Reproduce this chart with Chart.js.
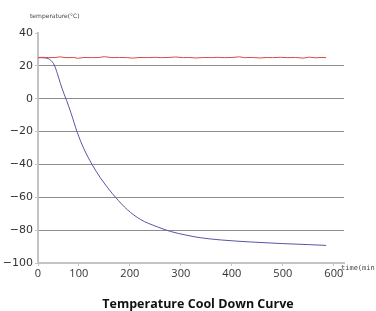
<!DOCTYPE html>
<html>
<head>
<meta charset="utf-8">
<script src="https://cdn.jsdelivr.net/npm/chart.js@4"></script>
<style>
  html, body { margin: 0; padding: 0; background: #fff; }
  #wrap { width: 376px; height: 311px; position: relative; }
</style>
</head>
<body>
<div id="wrap"><canvas id="chart"></canvas></div>
<script>
// Chart data
const chartTitle = 'Temperature Cool Down Curve';
const yAxisLabel = 'temperature(°C)';
const xAxisLabel = 'time(min)';

// Ambient / reference temperature (red)
const refTime = [20, 30, 40, 55, 62, 75, 90, 98, 110, 125, 140, 150, 165, 180, 195, 205, 220, 235, 250, 262,
    275, 290, 305, 315, 330, 345, 360, 372, 385, 400, 415, 425, 440, 455, 470, 480, 495, 510, 525, 540,
    552, 565, 575, 585];
const refTemp = [25.1, 25.2, 25.0, 25.1, 25.5, 25.0, 25.1, 24.6, 25.1, 25.0, 25.1, 25.6, 25.0, 25.1, 25.0, 24.7,
    25.1, 25.0, 25.2, 25.0, 25.1, 25.4, 25.0, 25.1, 24.8, 25.1, 25.0, 25.2, 25.0, 25.1, 25.5, 25.0, 25.1, 24.8,
    25.1, 25.0, 25.2, 25.0, 25.1, 24.7, 25.3, 24.9, 25.1, 25.0];

// Cool down curve (blue)
const coolTime = [20, 35, 45, 52, 58, 64, 71, 76, 85, 97, 110, 126, 142, 160, 172, 195, 221, 254, 280, 310,
    338, 380, 437, 500, 550, 585];
const coolTemp = [25, 24.8, 23.4, 20.4, 15.3, 9.2, 3, -1, -9, -20.5, -30.5, -40, -48, -55.5, -60, -67.5, -73.5,
    -78, -80.8, -83, -84.6, -86, -87.2, -88.2, -88.8, -89.3];

// Tick labels
const xTickValues = [20, 100, 200, 300, 400, 500, 600];
const xTickLabels = ['0', '100', '200', '300', '400', '500', '600'];

const toPoints = (xs, ys) => xs.map((x, i) => ({ x: x, y: ys[i] }));

// Axis titles drawn horizontally like the original, plus the caption under the chart
const textPlugin = {
    id: 'chartText',
    afterDraw(chart) {
        const ctx = chart.ctx;
        ctx.save();
        ctx.fillStyle = '#444';
        ctx.textBaseline = 'middle';
        ctx.textAlign = 'left';
        ctx.font = '6px "DejaVu Sans"';
        ctx.fillText(yAxisLabel, 30, 16);
        ctx.font = '7px "DejaVu Sans Mono"';
        ctx.fillText(xAxisLabel, 341, 268);
        ctx.fillStyle = '#111';
        ctx.textAlign = 'center';
        ctx.font = 'bold 12.5px "Open Sans"';
        ctx.fillText(chartTitle, 198, 304);
        ctx.restore();
    }
};

new Chart(document.getElementById('chart'), {
    type: 'line',
    data: {
        datasets: [{
            label: 'ambient',
            data: toPoints(refTime, refTemp),
            borderColor: '#d64a4a',
            borderWidth: 1,
            pointRadius: 0,
            tension: 0
        }, {
            label: 'cool down',
            data: toPoints(coolTime, coolTemp),
            borderColor: '#5656a2',
            borderWidth: 1,
            pointRadius: 0,
            cubicInterpolationMode: 'monotone'
        }]
    },
    options: {
        responsive: true,
        maintainAspectRatio: false,
        animation: false,
        layout: {
            padding: { top: 33, right: 32, left: 0, bottom: 28 }
        },
        scales: {
            x: {
                type: 'linear',
                min: 20,
                max: 620,
                afterBuildTicks: (scale) => {
                    scale.ticks = xTickValues.map(v => ({ value: v }));
                },
                afterFit: (scale) => { scale.height = 20; },
                ticks: {
                    autoSkip: false,
                    maxRotation: 0,
                    padding: 1,
                    color: '#333',
                    font: { family: 'Open Sans', size: 11 },
                    callback: (value) => xTickLabels[xTickValues.indexOf(value)]
                },
                grid: {
                    drawOnChartArea: false,
                    tickLength: 3,
                    tickColor: '#c4c4c4'
                },
                border: { color: '#c4c4c4', width: 2 }
            },
            y: {
                min: -100,
                max: 40,
                afterFit: (scale) => { scale.width = 38; },
                ticks: {
                    stepSize: 20,
                    padding: 2,
                    color: '#333',
                    font: { family: 'DejaVu Sans', size: 11 },
                    callback: (value) => value < 0 ? '\u2212' + Math.abs(value) : String(value)
                },
                grid: {
                    color: (c) => (c.tick && (c.tick.value === 40 || c.tick.value === -100)) ? 'rgba(0,0,0,0)' : '#8c8c8c',
                    tickLength: 3,
                    tickColor: '#c4c4c4'
                },
                border: { color: '#c4c4c4', width: 2 }
            }
        },
        plugins: {
            legend: { display: false },
            tooltip: { enabled: false },
            title: { display: false }
        }
    },
    plugins: [textPlugin]
});
</script>
</body>
</html>
